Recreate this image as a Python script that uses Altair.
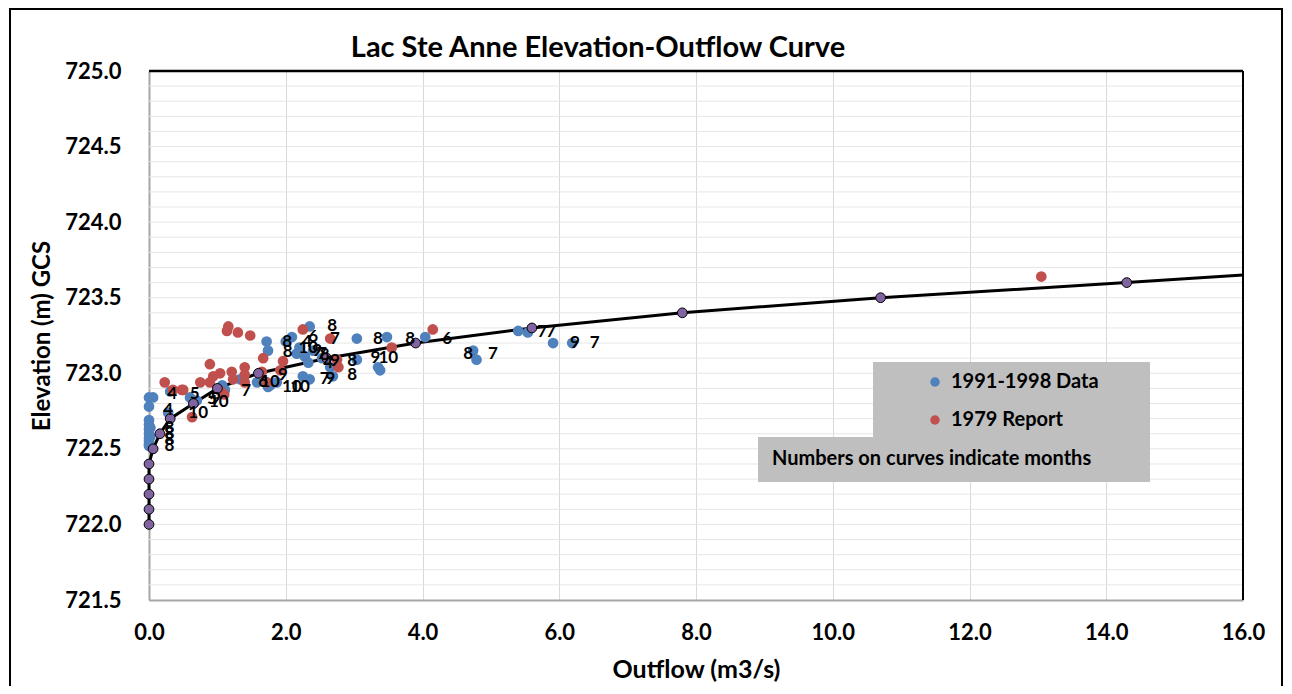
import altair as alt
import pandas as pd

# ---------------- data ----------------
# Rating curve (elevation-outflow) points
rating_q = [0.0, 0.0, 0.0, 0.0, 0.0, 0.06, 0.16, 0.31, 0.65, 1.0, 1.6, 2.6, 3.9, 5.6, 7.8, 10.7, 14.3]
rating_elev = [722.0, 722.1, 722.2, 722.3, 722.4, 722.5, 722.6, 722.7, 722.8, 722.9, 723.0, 723.1,
               723.2, 723.3, 723.4, 723.5, 723.6]
curve_end_q = 16.0
curve_end_elev = 723.65

# 1991-1998 Data
blue_q = [0.0, 0.06, 0.0, 0.0, 0.0, 0.0, 0.0, 0.0, 0.0, 0.0, 0.0, 0.02, 0.02,
          0.31, 0.28, 0.60, 0.70, 0.65, 1.07, 1.11, 1.33, 1.72, 1.74, 1.58, 1.77, 1.72, 1.87,
          2.0, 2.09, 2.2, 2.16, 2.28, 2.33, 2.4, 2.35, 2.25, 2.35, 2.53, 2.65, 2.69, 3.04,
          3.04, 3.35, 3.38, 3.48, 4.04, 4.74, 4.79, 5.4, 5.54, 5.91, 6.19, 1.74]
blue_elev = [722.84, 722.84, 722.78, 722.69, 722.66, 722.63, 722.60, 722.57, 722.55, 722.53, 722.52, 722.58, 722.64,
             722.88, 722.74, 722.84, 722.82, 722.80, 722.92, 722.89, 722.96, 723.21, 723.15, 722.94, 722.92, 722.94, 722.94,
             723.21, 723.24, 723.17, 723.13, 723.11, 723.07, 723.15, 723.31, 722.98, 722.96, 723.10, 723.04, 722.98, 723.23,
             723.09, 723.04, 723.02, 723.24, 723.24, 723.15, 723.09, 723.28, 723.27, 723.20, 723.20, 722.91]

# 1979 Report
red_q = [0.23, 0.35, 0.48, 0.63, 0.5, 0.75, 0.89, 0.94, 1.04, 0.89, 1.21, 1.23, 1.4, 1.4, 1.4,
         1.16, 1.14, 1.3, 1.48, 1.65, 1.72, 1.67, 1.92, 1.96, 2.25, 2.65, 2.75, 2.77, 3.55, 4.15,
         13.05, 1.05, 1.1]
red_elev = [722.94, 722.89, 722.89, 722.71, 722.89, 722.94, 722.94, 722.98, 723.0, 723.06, 723.01, 722.96, 723.04, 722.99, 722.94,
            723.31, 723.28, 723.27, 723.25, 723.01, 722.94, 723.10, 723.02, 723.08, 723.29, 723.23, 723.09, 723.04, 723.17, 723.29,
            723.64, 722.88, 722.86]

# Month labels
label_text = ["8", "8", "8", "8", "4", "4", "5", "10", "5", "9", "10", "7", "6", "10", "9", "10", "10",
              "8", "8", "4", "6", "10", "9", "7", "8", "4", "9", "7", "9", "8", "7", "8", "8",
              "8", "9", "10", "8", "6", "8", "7", "7", "7", "9", "7"]
label_q = [0.30, 0.30, 0.30, 0.30, 0.34, 0.28, 0.67, 0.72, 0.92, 0.98, 1.02, 1.42, 1.67, 1.77, 1.96, 2.09, 2.21,
           2.02, 2.03, 2.31, 2.40, 2.33, 2.46, 2.53, 2.57, 2.62, 2.72, 2.57, 2.65, 2.68, 2.72, 2.97, 2.97,
           3.35, 3.31, 3.50, 3.82, 4.36, 4.67, 5.03, 5.75, 5.88, 6.23, 6.52]
label_elev = [722.52, 722.56, 722.60, 722.64, 722.86, 722.76, 722.86, 722.74, 722.83, 722.83, 722.81, 722.88, 722.94, 722.94, 722.99, 722.91, 722.91,
              723.21, 723.14, 723.21, 723.24, 723.17, 723.15, 723.13, 723.12, 723.07, 723.08, 722.96, 722.96, 723.31, 723.23, 723.08, 722.99,
              723.23, 723.10, 723.10, 723.23, 723.23, 723.13, 723.13, 723.27, 723.27, 723.20, 723.20]

series_names = ["1991-1998 Data", "1979 Report"]
series_colors = ["#4F81BD", "#C0504D"]

x_ticks = [0, 2, 4, 6, 8, 10, 12, 14, 16]
y_ticks = [721.5, 722.0, 722.5, 723.0, 723.5, 724.0, 724.5, 725.0]
y_grid = [round(721.5 + 0.1 * i, 1) for i in range(1, 35)]

title_text = "Lac Ste Anne Elevation-Outflow Curve"
note_text = "Numbers on curves indicate months"

# ---------------- tables ----------------
curve_df = pd.DataFrame({"q": rating_q + [curve_end_q], "elev": rating_elev + [curve_end_elev]})
rating_df = pd.DataFrame({"q": rating_q, "elev": rating_elev})
obs_df = pd.concat([
    pd.DataFrame({"q": blue_q, "elev": blue_elev, "series": series_names[0]}),
    pd.DataFrame({"q": red_q, "elev": red_elev, "series": series_names[1]}),
])
lab_df = pd.DataFrame({"q": label_q, "elev": label_elev, "txt": label_text})
grid_df = pd.DataFrame({"elev": y_grid})
one = pd.DataFrame({"a": [0]})

FONT = "Lato"
W, H = 1094, 529

xs = alt.Scale(domain=[0, 16], nice=False, zero=False)
ys = alt.Scale(domain=[721.5, 725.0], nice=False, zero=False)

x_enc = alt.X("q:Q", scale=xs, axis=alt.Axis(
    values=x_ticks, format=".1f", title="Outflow (m3/s)", grid=True, gridColor="#D9D9D9",
    ticks=False, labelPadding=22, titlePadding=14, domainColor="#A6A6A6", domainWidth=2,
    labelFlush=False, labelOverlap=False,
    labelFontSize=22, labelFontWeight="bold", labelFont=FONT, labelColor="#000",
    titleFontSize=25, titleFontWeight="bold", titleFont=FONT, titleColor="#000"))
y_enc = alt.Y("elev:Q", scale=ys, axis=alt.Axis(
    values=y_ticks, format=".1f",
    title="Elevation (m) GCS", grid=False, ticks=False, labelPadding=28,
    labelFlush=False, labelOverlap=False,
    titlePadding=10, domainColor="#A6A6A6", domainWidth=2,
    labelFontSize=22, labelFontWeight="bold", labelFont=FONT, labelColor="#000",
    titleFontSize=24, titleFontWeight="bold", titleFont=FONT, titleColor="#000"))

frame = alt.Chart(one).mark_rect(fill=None, stroke="#000", strokeWidth=2).encode(
    x=alt.value(-139), x2=alt.value(1133), y=alt.value(-62), y2=alt.value(640))

hgrid = alt.Chart(grid_df).mark_rule(color="#E6E6E6", strokeWidth=1).encode(
    y=y_enc, x=alt.value(0), x2=alt.value(W))

top_border = alt.Chart(one).mark_rule(color="#000", strokeWidth=2.5).encode(
    x=alt.value(0), x2=alt.value(W), y=alt.value(0))
right_border = alt.Chart(one).mark_rule(color="#000", strokeWidth=2).encode(
    x=alt.value(W), y=alt.value(0), y2=alt.value(H))

title = alt.Chart(one).mark_text(text=title_text, align="center", baseline="middle", font=FONT,
                                 fontWeight="bold", fontSize=29, color="#000").encode(
    x=alt.value(449), y=alt.value(-23))

box1 = alt.Chart(one).mark_rect(color="#BFBFBF").encode(
    x=alt.value(724), x2=alt.value(1001), y=alt.value(291), y2=alt.value(366))
box2 = alt.Chart(one).mark_rect(color="#BFBFBF").encode(
    x=alt.value(609), x2=alt.value(1001), y=alt.value(366), y2=alt.value(411))
note = alt.Chart(one).mark_text(text=note_text, align="left",
                                baseline="middle", font=FONT, fontWeight="bold", fontSize=20,
                                color="#000").encode(x=alt.value(623), y=alt.value(388))

line = alt.Chart(curve_df).mark_line(color="#000", strokeWidth=3).encode(
    x=x_enc, y=y_enc, order="elev:Q")

obs = alt.Chart(obs_df).mark_circle(size=115, opacity=1).encode(
    x=x_enc, y=y_enc,
    color=alt.Color("series:N", scale=alt.Scale(domain=series_names, range=series_colors),
                    sort=series_names,
                    legend=alt.Legend(title=None, orient="none", legendX=776, legendY=301,
                                      symbolType="circle", symbolSize=90, symbolOpacity=1,
                                      labelFont=FONT, labelFontSize=20, labelFontWeight="bold",
                                      labelColor="#000", rowPadding=18, labelOffset=6)))

rating = alt.Chart(rating_df).mark_point(filled=True, size=95, fill="#8064A2", stroke="#000",
                                         strokeWidth=1, opacity=1, shape="circle").encode(
    x=x_enc, y=y_enc)

labels = alt.Chart(lab_df).mark_text(font=FONT, fontWeight="bold", fontSize=17, color="#000").encode(
    x=x_enc, y=y_enc, text="txt:N")

chart = alt.layer(frame, hgrid, box1, box2, note, line, top_border, right_border, obs, rating,
                  labels, title).properties(
    width=W, height=H,
    autosize=alt.AutoSizeParams(type="none"),
    padding={"left": 141, "top": 63, "right": 41, "bottom": 86},
).configure_view(stroke=None).configure(background="white")

chart.save("out.html", embed_options={"renderer": "svg", "actions": False})
